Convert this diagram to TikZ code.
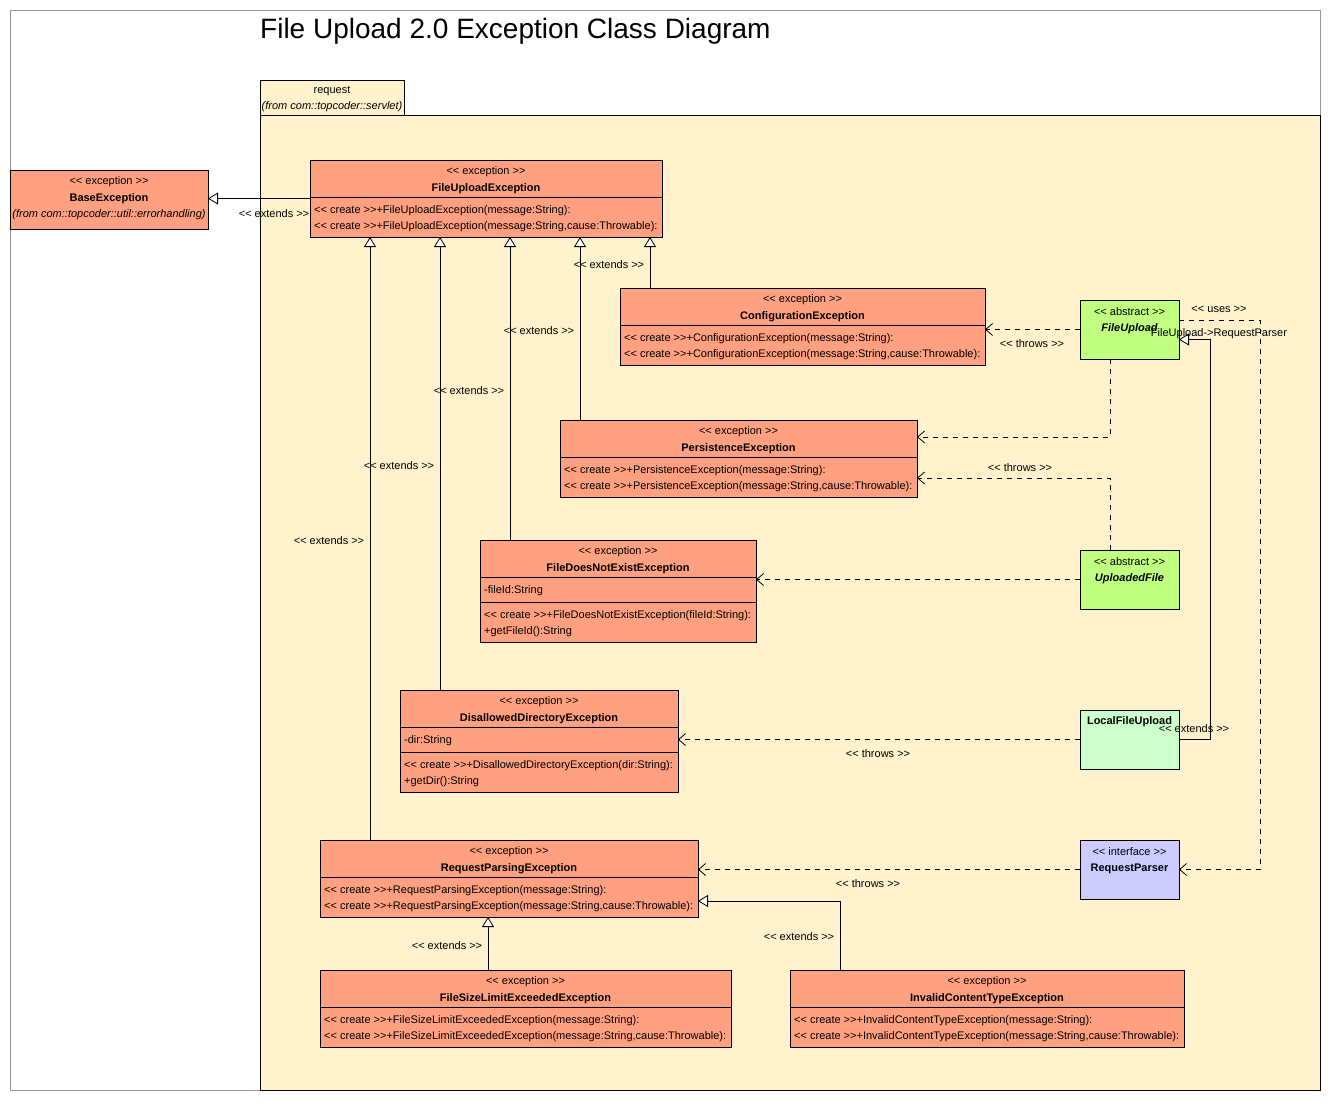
\documentclass[tikz,border=0pt]{standalone}
\usepackage{fontspec}
\setmainfont{Liberation Sans}
\usetikzlibrary{arrows.meta,calc}
\definecolor{exc}{RGB}{255,160,128}
\definecolor{pkg}{RGB}{255,242,204}
\definecolor{absg}{RGB}{192,255,128}
\definecolor{locg}{RGB}{204,255,204}
\definecolor{ifc}{RGB}{204,204,255}
\definecolor{frm}{RGB}{150,150,150}
\newcommand\sopen{<\kern0pt<}
\newcommand\sclose{>\kern0pt>}
\newcommand\tf{\fontsize{11}{12}\selectfont}
\begin{document}
\begin{tikzpicture}[x=1pt,y=-1pt,
  cls/.style={draw=black, line width=0.8pt, anchor=north west, inner sep=0pt, outer sep=0pt},
  tx/.style={font=\tf, inner sep=0pt, text=black},
  txl/.style={tx, anchor=west},
  div/.style={draw=black, line width=0.8pt},
  ext/.style={draw=black, line width=0.8pt, -{Triangle[open, fill=white, length=10pt, width=12pt]}},
  dep/.style={draw=black, line width=0.8pt, dash pattern=on 5pt off 5pt, -{Straight Barb[length=7pt, width=12pt]}},
  lbl/.style={tx}]
\useasboundingbox (0,0) rectangle (1330,1100);
\fill[white] (0,0) rectangle (1330,1100);
% outer frame
\draw[frm, line width=0.8pt] (10,10) rectangle (1320,1090);
\node[anchor=west, inner sep=0pt, font=\fontsize{28}{30}\selectfont] (title) at (260,31) {File Upload 2.0 Exception Class Diagram};
% package
\draw[fill=pkg, line width=0.8pt] (260,80) rectangle (404,115);
\draw[fill=pkg, line width=0.8pt] (260,115) rectangle (1320,1090);
\node[tx] (pkgname) at (332,91) {request};
\node[tx, font=\tf\itshape] (pkgfrom) at (332,107) {(from com::topcoder::servlet)};

% BaseException
\node[cls, fill=exc, minimum width=198pt, minimum height=59pt] (base) at (10,170) {};
\node[tx] (base-st) at ($(base.north)+(0,12)$) {\sopen{} exception \sclose};
\node[tx, font=\tf\bfseries] (base-nm) at ($(base.north)+(0,29)$) {BaseException};
\node[tx, font=\tf\itshape] (base-fr) at ($(base.north)+(0,45)$) {(from com::topcoder::util::errorhandling)};

% FileUploadException
\node[cls, fill=exc, minimum width=352pt, minimum height=77pt] (fue) at (310,160) {};
\draw[div] (fue.north west) ++(0,37) -- ++(352,0);
\node[tx] (fue-st) at ($(fue.north)+(0,12)$) {\sopen{} exception \sclose};
\node[tx, font=\tf\bfseries] (fue-nm) at ($(fue.north)+(0,29)$) {FileUploadException};
\node[txl] (fue-o1) at ($(fue.north west)+(4,51)$) {\sopen{} create \sclose+FileUploadException(message:String):};
\node[txl] (fue-o2) at ($(fue.north west)+(4,67)$) {\sopen{} create \sclose+FileUploadException(message:String,cause:Throwable):};

% ConfigurationException
\node[cls, fill=exc, minimum width=365pt, minimum height=77pt] (ce) at (620,288) {};
\draw[div] (ce.north west) ++(0,37) -- ++(365,0);
\node[tx] (ce-st) at ($(ce.north)+(0,12)$) {\sopen{} exception \sclose};
\node[tx, font=\tf\bfseries] (ce-nm) at ($(ce.north)+(0,29)$) {ConfigurationException};
\node[txl] (ce-o1) at ($(ce.north west)+(4,51)$) {\sopen{} create \sclose+ConfigurationException(message:String):};
\node[txl] (ce-o2) at ($(ce.north west)+(4,67)$) {\sopen{} create \sclose+ConfigurationException(message:String,cause:Throwable):};

% PersistenceException
\node[cls, fill=exc, minimum width=357pt, minimum height=77pt] (pe) at (560,420) {};
\draw[div] (pe.north west) ++(0,37) -- ++(357,0);
\node[tx] (pe-st) at ($(pe.north)+(0,12)$) {\sopen{} exception \sclose};
\node[tx, font=\tf\bfseries] (pe-nm) at ($(pe.north)+(0,29)$) {PersistenceException};
\node[txl] (pe-o1) at ($(pe.north west)+(4,51)$) {\sopen{} create \sclose+PersistenceException(message:String):};
\node[txl] (pe-o2) at ($(pe.north west)+(4,67)$) {\sopen{} create \sclose+PersistenceException(message:String,cause:Throwable):};

% FileDoesNotExistException
\node[cls, fill=exc, minimum width=276pt, minimum height=102pt] (fdne) at (480,540) {};
\draw[div] (fdne.north west) ++(0,37) -- ++(276,0);
\draw[div] (fdne.north west) ++(0,62) -- ++(276,0);
\node[tx] (fdne-st) at ($(fdne.north)+(0,12)$) {\sopen{} exception \sclose};
\node[tx, font=\tf\bfseries] (fdne-nm) at ($(fdne.north)+(0,29)$) {FileDoesNotExistException};
\node[txl] (fdne-a1) at ($(fdne.north west)+(4,51)$) {-fileId:String};
\node[txl] (fdne-o1) at ($(fdne.north west)+(4,76)$) {\sopen{} create \sclose+FileDoesNotExistException(fileId:String):};
\node[txl] (fdne-o2) at ($(fdne.north west)+(4,92)$) {+getFileId():String};

% DisallowedDirectoryException
\node[cls, fill=exc, minimum width=278pt, minimum height=102pt] (dde) at (400,690) {};
\draw[div] (dde.north west) ++(0,37) -- ++(278,0);
\draw[div] (dde.north west) ++(0,62) -- ++(278,0);
\node[tx] (dde-st) at ($(dde.north)+(0,12)$) {\sopen{} exception \sclose};
\node[tx, font=\tf\bfseries] (dde-nm) at ($(dde.north)+(0,29)$) {DisallowedDirectoryException};
\node[txl] (dde-a1) at ($(dde.north west)+(4,51)$) {-dir:String};
\node[txl] (dde-o1) at ($(dde.north west)+(4,76)$) {\sopen{} create \sclose+DisallowedDirectoryException(dir:String):};
\node[txl] (dde-o2) at ($(dde.north west)+(4,92)$) {+getDir():String};

% RequestParsingException
\node[cls, fill=exc, minimum width=378pt, minimum height=77pt] (rpe) at (320,840) {};
\draw[div] (rpe.north west) ++(0,37) -- ++(378,0);
\node[tx] (rpe-st) at ($(rpe.north)+(0,12)$) {\sopen{} exception \sclose};
\node[tx, font=\tf\bfseries] (rpe-nm) at ($(rpe.north)+(0,29)$) {RequestParsingException};
\node[txl] (rpe-o1) at ($(rpe.north west)+(4,51)$) {\sopen{} create \sclose+RequestParsingException(message:String):};
\node[txl] (rpe-o2) at ($(rpe.north west)+(4,67)$) {\sopen{} create \sclose+RequestParsingException(message:String,cause:Throwable):};

% FileSizeLimitExceededException
\node[cls, fill=exc, minimum width=411pt, minimum height=77pt] (fsle) at (320,970) {};
\draw[div] (fsle.north west) ++(0,37) -- ++(411,0);
\node[tx] (fsle-st) at ($(fsle.north)+(0,12)$) {\sopen{} exception \sclose};
\node[tx, font=\tf\bfseries] (fsle-nm) at ($(fsle.north)+(0,29)$) {FileSizeLimitExceededException};
\node[txl] (fsle-o1) at ($(fsle.north west)+(4,51)$) {\sopen{} create \sclose+FileSizeLimitExceededException(message:String):};
\node[txl] (fsle-o2) at ($(fsle.north west)+(4,67)$) {\sopen{} create \sclose+FileSizeLimitExceededException(message:String,cause:Throwable):};

% InvalidContentTypeException
\node[cls, fill=exc, minimum width=394pt, minimum height=77pt] (icte) at (790,970) {};
\draw[div] (icte.north west) ++(0,37) -- ++(394,0);
\node[tx] (icte-st) at ($(icte.north)+(0,12)$) {\sopen{} exception \sclose};
\node[tx, font=\tf\bfseries] (icte-nm) at ($(icte.north)+(0,29)$) {InvalidContentTypeException};
\node[txl] (icte-o1) at ($(icte.north west)+(4,51)$) {\sopen{} create \sclose+InvalidContentTypeException(message:String):};
\node[txl] (icte-o2) at ($(icte.north west)+(4,67)$) {\sopen{} create \sclose+InvalidContentTypeException(message:String,cause:Throwable):};

% FileUpload
\node[cls, fill=absg, minimum width=99pt, minimum height=59pt] (fu) at (1080,300) {};
\node[tx] (fu-st) at ($(fu.north)+(0,12)$) {\sopen{} abstract \sclose};
\node[tx, font=\tf\bfseries\itshape] (fu-nm) at ($(fu.north)+(0,29)$) {FileUpload};
% UploadedFile
\node[cls, fill=absg, minimum width=99pt, minimum height=59pt] (uf) at (1080,550) {};
\node[tx] (uf-st) at ($(uf.north)+(0,12)$) {\sopen{} abstract \sclose};
\node[tx, font=\tf\bfseries\itshape] (uf-nm) at ($(uf.north)+(0,29)$) {UploadedFile};
% LocalFileUpload
\node[cls, fill=locg, minimum width=99pt, minimum height=59pt] (lfu) at (1080,710) {};
\node[tx, font=\tf\bfseries] (lfu-nm) at ($(lfu.north)+(0,12)$) {LocalFileUpload};
% RequestParser
\node[cls, fill=ifc, minimum width=99pt, minimum height=59pt] (rp) at (1080,840) {};
\node[tx] (rp-st) at ($(rp.north)+(0,12)$) {\sopen{} interface \sclose};
\node[tx, font=\tf\bfseries] (rp-nm) at ($(rp.north)+(0,29)$) {RequestParser};

% generalizations
\draw[ext] (fue.west) -- (fue.west -| base.east);
\draw[ext] ($(rpe.north west)+(50,0)$) coordinate (g1) -- (g1 |- fue.south);
\draw[ext] ($(dde.north west)+(40,0)$) coordinate (g2) -- (g2 |- fue.south);
\draw[ext] ($(fdne.north west)+(30,0)$) coordinate (g3) -- (g3 |- fue.south);
\draw[ext] ($(pe.north west)+(20,0)$) coordinate (g4) -- (g4 |- fue.south);
\draw[ext] ($(ce.north west)+(30,0)$) coordinate (g5) -- (g5 |- fue.south);
\draw[ext] ($(fsle.north west)+(168,0)$) coordinate (g6) -- (g6 |- rpe.south);
\draw[ext] ($(icte.north west)+(50,0)$) |- ($(rpe.south east)+(0,-16)$);
\draw[ext] (lfu.east) -- ++(31,0) |- ($(fu.east)+(0,10)$);

% dependencies
\draw[dep] (fu.west) -- (fu.west -| ce.east);
\draw[dep] ($(fu.south west)+(30,0)$) |- ($(pe.north east)+(0,17)$);
\draw[dep] ($(uf.north west)+(30,0)$) |- ($(pe.south east)+(0,-19)$);
\draw[dep] (uf.west) -- (uf.west -| fdne.east);
\draw[dep] (lfu.west) -- (lfu.west -| dde.east);
\draw[dep] (rp.west) -- (rp.west -| rpe.east);
\draw[dep] ($(fu.north east)+(0,20)$) -- ++(81,0) |- (rp.east);

% labels
\node[lbl] (l-e0) at (274,214) {\sopen{} extends \sclose};
\node[lbl] (l-e1) at (329,541) {\sopen{} extends \sclose};
\node[lbl] (l-e2) at (399,466) {\sopen{} extends \sclose};
\node[lbl] (l-e3) at (469,391) {\sopen{} extends \sclose};
\node[lbl] (l-e4) at (539,331) {\sopen{} extends \sclose};
\node[lbl] (l-e5) at (609,265) {\sopen{} extends \sclose};
\node[lbl] (l-e6) at (447,946) {\sopen{} extends \sclose};
\node[lbl] (l-e7) at (799,937) {\sopen{} extends \sclose};
\node[lbl] (l-e8) at (1194,729) {\sopen{} extends \sclose};
\node[lbl] (l-t1) at (1032,344) {\sopen{} throws \sclose};
\node[lbl] (l-t2) at (1020,468) {\sopen{} throws \sclose};
\node[lbl] (l-t3) at (878,754) {\sopen{} throws \sclose};
\node[lbl] (l-t4) at (868,884) {\sopen{} throws \sclose};
\node[lbl] (l-u1) at (1219,309) {\sopen{} uses \sclose};
\node[lbl] (l-u2) at (1219,334) {FileUpload->RequestParser};
\end{tikzpicture}
\end{document}
